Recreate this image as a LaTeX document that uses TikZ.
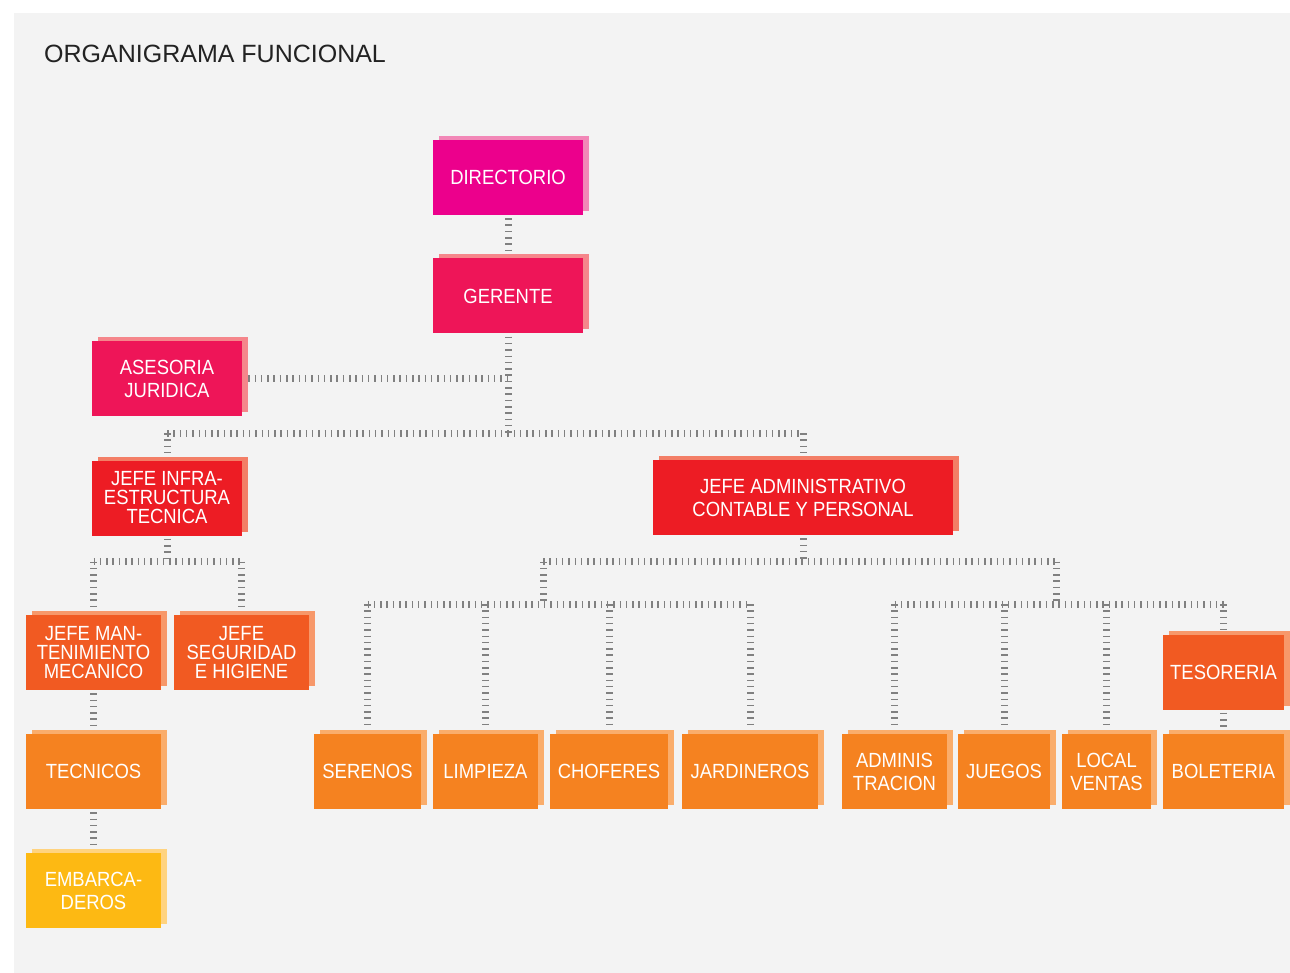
\documentclass[tikz,border=0pt]{standalone}
\usepackage{fontspec}
\setmainfont{Liberation Sans}
\newfontfamily\boxfont[FakeStretch=0.9]{Liberation Sans}
\newfontfamily\titlefont{Liberation Sans}
\usetikzlibrary{shadows}
\definecolor{bgpanel}{HTML}{F3F3F3}
\definecolor{titlegray}{HTML}{222222}
\definecolor{tickgray}{HTML}{808080}
\definecolor{magM}{HTML}{EC008C}
\definecolor{magS}{HTML}{F287B7}
\definecolor{pinkM}{HTML}{EE1558}
\definecolor{pinkS}{HTML}{F5868B}
\definecolor{redM}{HTML}{ED1C24}
\definecolor{redS}{HTML}{F37E66}
\definecolor{oredM}{HTML}{F15A22}
\definecolor{oredS}{HTML}{F7986A}
\definecolor{orM}{HTML}{F58220}
\definecolor{orS}{HTML}{FAAD6B}
\definecolor{yelM}{HTML}{FDB913}
\definecolor{yelS}{HTML}{FFD37F}
\tikzset{
  box/.style={rectangle, inner sep=0pt, minimum height=75pt, text=white,
    font=\boxfont\fontsize{20.5}{23}\selectfont, align=center},
  tri/.style={font=\boxfont\fontsize{20.5}{19}\selectfont},
  cmag/.style={box, fill=magM, general shadow={shadow xshift=6pt, shadow yshift=4pt, fill=magS}},
  cpink/.style={box, fill=pinkM, general shadow={shadow xshift=6pt, shadow yshift=4pt, fill=pinkS}},
  cred/.style={box, fill=redM, general shadow={shadow xshift=6pt, shadow yshift=4pt, fill=redS}},
  cored/.style={box, fill=oredM, general shadow={shadow xshift=6pt, shadow yshift=4pt, fill=oredS}},
  cor/.style={box, fill=orM, general shadow={shadow xshift=6pt, shadow yshift=4pt, fill=orS}},
  cyel/.style={box, fill=yelM, general shadow={shadow xshift=6pt, shadow yshift=4pt, fill=yelS}},
  ladder/.style={draw=tickgray, line width=7pt, dash pattern=on 1.5pt off 4.8pt}
}
\begin{document}
\begin{tikzpicture}[x=1pt,y=-1pt]
\useasboundingbox (0,0) rectangle (1290,973);
\fill[white] (0,0) rectangle (1290,973);
\fill[bgpanel] (14,13) rectangle (1290,973);

\node[anchor=base west, inner sep=0pt, text=titlegray, font=\titlefont\fontsize{25}{30}\selectfont] (title) at (44,62.5) {ORGANIGRAMA FUNCIONAL};

% boxes
\node[cmag, minimum width=150pt] (dir) at (508,177.5) {DIRECTORIO};
\node[cpink, minimum width=150pt] (ger) at (508,296) {GERENTE};
\node[cpink, minimum width=150pt] (ase) at (167,378.5) {ASESORIA\\JURIDICA};
\node[cred, tri, minimum width=150pt] (inf) at (167,498) {JEFE INFRA-\\ESTRUCTURA\\TECNICA};
\node[cred, minimum width=300pt] (adm) at (803,497.5) {JEFE ADMINISTRATIVO\\CONTABLE Y PERSONAL};
\node[cored, tri, minimum width=135pt] (man) at (93.5,652.5) {JEFE MAN-\\TENIMIENTO\\MECANICO};
\node[cored, tri, minimum width=135pt] (seg) at (241.5,652.5) {JEFE\\SEGURIDAD\\E HIGIENE};
\node[cor, minimum width=135pt] (tec) at (93.5,771.5) {TECNICOS};
\node[cyel, minimum width=135pt] (emb) at (93.5,890.5) {EMBARCA-\\DEROS};
\node[cor, minimum width=107pt] (ser) at (367.5,771.5) {SERENOS};
\node[cor, minimum width=105pt] (lim) at (485.5,771.5) {LIMPIEZA};
\node[cor, minimum width=118pt] (cho) at (609,771.5) {CHOFERES};
\node[cor, minimum width=136pt] (jar) at (750,771.5) {JARDINEROS};
\node[cor, minimum width=105pt] (adn) at (894.5,771.5) {ADMINIS\\TRACION};
\node[cor, minimum width=92pt] (jue) at (1004,771.5) {JUEGOS};
\node[cor, minimum width=89pt] (loc) at (1106.5,771.5) {LOCAL\\VENTAS};
\node[cored, minimum width=121pt] (tes) at (1223.5,672) {TESORERIA};
\node[cor, minimum width=121pt] (bol) at (1223.5,771.5) {BOLETERIA};

% bus coordinates
\coordinate (busA) at (508,433);
\coordinate (busB) at (167,561.5);
\coordinate (busC) at (803,561.5);
\coordinate (busL) at (543,604);
\coordinate (busR) at (1056,604);

% connectors
\draw[ladder] ([yshift=-3pt]dir.south) -- ([yshift=4pt]ger.north);
\draw[ladder] ([yshift=-3pt]ger.south) -- (busA);
\draw[ladder] ([xshift=6pt]ase.east) -- (ase.east -| ger.south);
\draw[ladder] (inf.north |- busA) -- (adm.north |- busA);
\draw[ladder] (inf.north |- busA) -- ([yshift=4pt]inf.north);
\draw[ladder] (adm.north |- busA) -- ([yshift=4pt]adm.north);

\draw[ladder] ([yshift=-3pt]inf.south) -- (busB);
\draw[ladder] (man.north |- busB) -- (seg.north |- busB);
\draw[ladder] (man.north |- busB) -- ([yshift=4pt]man.north);
\draw[ladder] (seg.north |- busB) -- ([yshift=4pt]seg.north);
\draw[ladder] ([yshift=-3pt]man.south) -- ([yshift=4pt]tec.north);
\draw[ladder] ([yshift=-3pt]tec.south) -- ([yshift=4pt]emb.north);

\draw[ladder] ([yshift=-3pt]adm.south) -- (busC);
\draw[ladder] (busL |- busC) -- (busR |- busC);
\draw[ladder] (busL |- busC) -- (busL);
\draw[ladder] (busR |- busC) -- (busR);

\draw[ladder] (ser.north |- busL) -- (jar.north |- busL);
\draw[ladder] (ser.north |- busL) -- ([yshift=4pt]ser.north);
\draw[ladder] (lim.north |- busL) -- ([yshift=4pt]lim.north);
\draw[ladder] (cho.north |- busL) -- ([yshift=4pt]cho.north);
\draw[ladder] (jar.north |- busL) -- ([yshift=4pt]jar.north);

\draw[ladder] (adn.north |- busR) -- (tes.north |- busR);
\draw[ladder] (adn.north |- busR) -- ([yshift=4pt]adn.north);
\draw[ladder] (jue.north |- busR) -- ([yshift=4pt]jue.north);
\draw[ladder] (loc.north |- busR) -- ([yshift=4pt]loc.north);
\draw[ladder] (tes.north |- busR) -- ([yshift=4pt]tes.north);
\draw[ladder] ([yshift=-3pt]tes.south) -- ([yshift=4pt]bol.north);
\end{tikzpicture}
\end{document}
